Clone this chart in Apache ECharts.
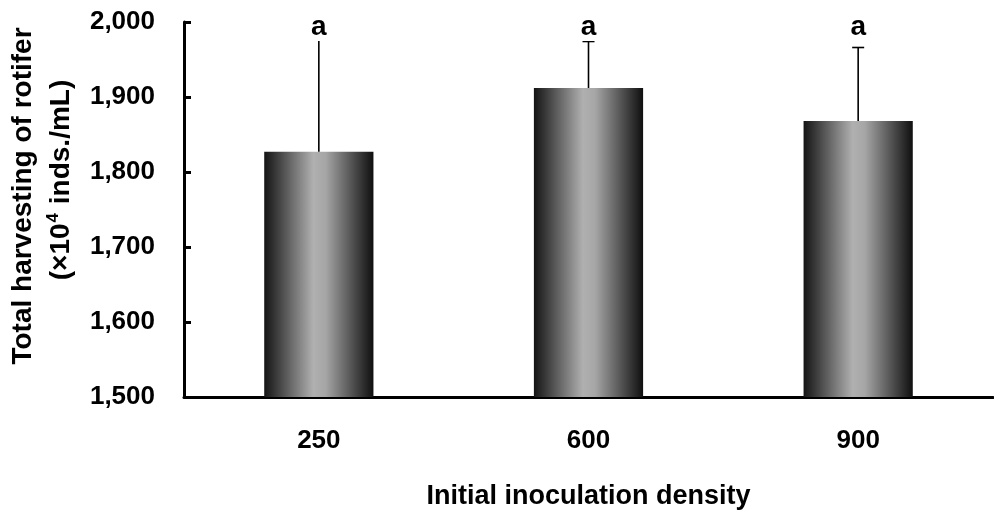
<!DOCTYPE html>
<html>
<head>
<meta charset="utf-8">
<script src="https://cdn.jsdelivr.net/npm/echarts@6/dist/echarts.min.js"></script>
<style>
  html, body { margin: 0; padding: 0; background: #fff; }
  #main { width: 994px; height: 515px; }
</style>
</head>
<body>
<div id="main"></div>
<script>
// initial inoculation density groups
var categories = ['250', '600', '900'];
// mean total harvest (x10^4 inds./mL)
var means = [1827, 1912, 1868];
// standard deviation (upper error bar only)
var sds = [165, 62, 98];
// significance letters
var letters = ['a', 'a', 'a'];
var yTicks = [1500, 1600, 1700, 1800, 1900, 2000];

var font = '"Liberation Sans", Arial, sans-serif';

var barGradient = new echarts.graphic.LinearGradient(0, 0, 1, 0, [
  { offset: 0, color: '#141414' },
  { offset: 0.45, color: '#b0b0b0' },
  { offset: 0.56, color: '#a6a6a6' },
  { offset: 1, color: '#0f0f0f' }
]);

var errData = categories.map(function (c, i) {
  return [i, means[i], sds[i], letters[i]];
});

var myChart = echarts.init(document.getElementById('main'));
var option = {
  animation: false,
  backgroundColor: '#fff',
  grid: { left: 184, right: 1, top: 22, bottom: 118, outerBoundsMode: 'none', containLabel: false },
  // y axis title, two lines with superscript
  graphic: [
    {
      type: 'text', x: 23, y: 196, rotation: Math.PI / 2,
      style: {
        text: 'Total harvesting of rotifer',
        font: 'bold 28px ' + font, fill: '#000',
        align: 'center', verticalAlign: 'middle'
      }
    },
    {
      type: 'text', x: 61, y: 180, rotation: Math.PI / 2,
      style: {
        text: '{p|(×10}{sup|4}{p| inds./mL)}',
        align: 'center', verticalAlign: 'middle', fill: '#000',
        rich: {
          p: { font: 'bold 28px ' + font, fill: '#000', lineHeight: 32 },
          sup: { font: 'bold 17px ' + font, fill: '#000', verticalAlign: 'top', lineHeight: 32, padding: [0, 1, 14, 1] }
        }
      }
    }
  ],
  xAxis: {
    type: 'category',
    data: categories,
    name: 'Initial inoculation density',
    nameLocation: 'middle',
    nameGap: 86,
    nameTextStyle: { fontFamily: font, fontWeight: 'bold', fontSize: 27, color: '#000' },
    axisLine: { lineStyle: { color: '#000', width: 3 } },
    axisTick: { inside: true, length: 6, lineStyle: { color: '#000', width: 3 } },
    axisLabel: { margin: 31, fontFamily: font, fontWeight: 'bold', fontSize: 26, color: '#000' }
  },
  yAxis: {
    type: 'value',
    min: yTicks[0],
    max: yTicks[yTicks.length - 1],
    interval: 100,
    splitLine: { show: false },
    axisLine: { show: true, lineStyle: { color: '#000', width: 3 } },
    axisTick: { show: true, inside: true, length: 7, lineStyle: { color: '#000', width: 3 } },
    axisLabel: {
      margin: 29,
      fontFamily: font, fontWeight: 'bold', fontSize: 26, color: '#000',
      formatter: function (v) { return v.toLocaleString('en-US'); }
    }
  },
  series: [
    {
      type: 'bar',
      data: means,
      barWidth: '40.5%',
      itemStyle: { color: barGradient },
      z: 2
    },
    {
      type: 'custom',
      data: errData,
      z: 5,
      renderItem: function (params, api) {
        var i = api.value(0);
        var base = api.coord([i, api.value(1)]);
        var top = api.coord([i, api.value(1) + api.value(2)]);
        var lab = api.coord([i, yTicks[yTicks.length - 1]]);
        var cap = 6;
        var style = { stroke: '#000', lineWidth: 1.6 };
        return {
          type: 'group',
          children: [
            { type: 'line', shape: { x1: base[0], y1: base[1], x2: top[0], y2: top[1] }, style: style },
            { type: 'line', shape: { x1: top[0] - cap, y1: top[1], x2: top[0] + cap, y2: top[1] }, style: style },
            {
              type: 'text', z2: 10,
              style: {
                x: lab[0], y: lab[1] + 5,
                text: api.value(3),
                align: 'center', verticalAlign: 'middle',
                font: 'bold 28px ' + font,
                fill: '#000',
                backgroundColor: '#fff',
                padding: [0, 2, 0, 2]
              }
            }
          ]
        };
      }
    }
  ]
};
myChart.setOption(option);
</script>
</body>
</html>
